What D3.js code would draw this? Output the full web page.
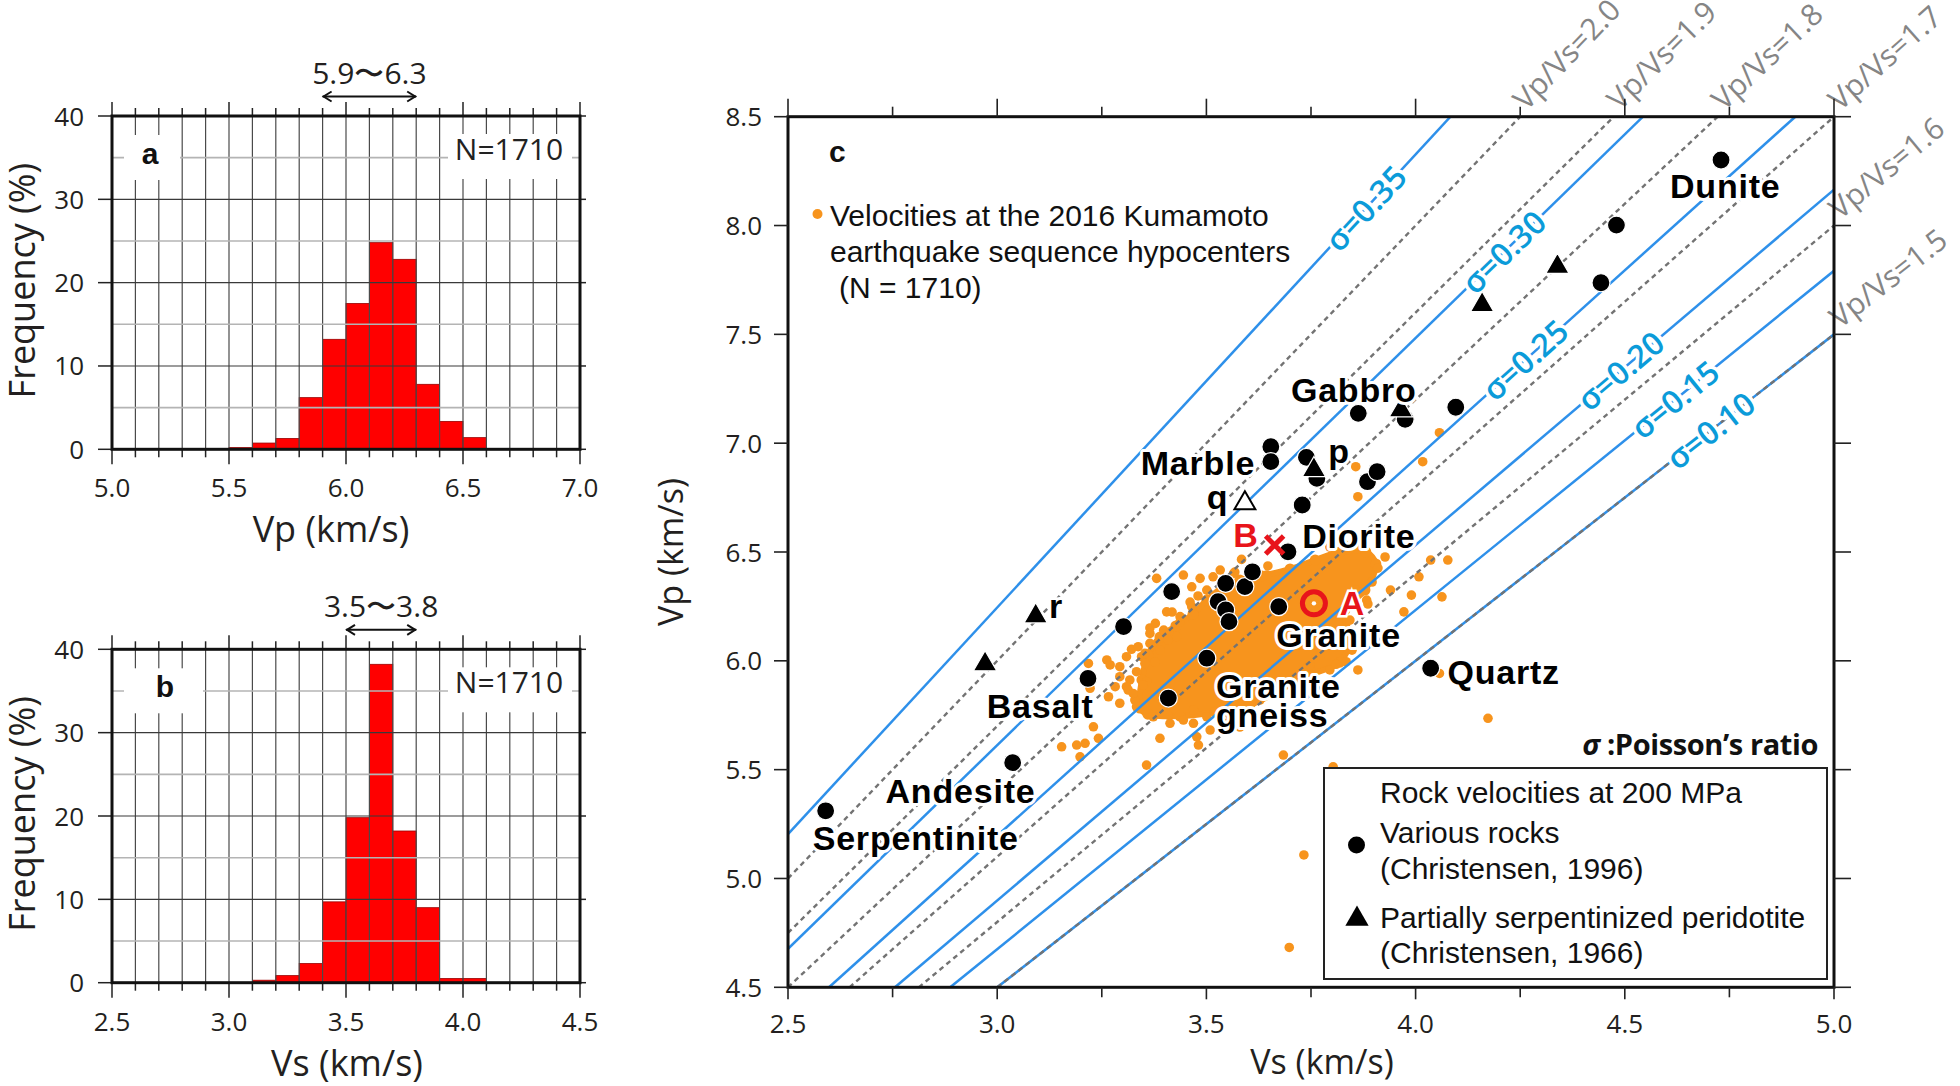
<!DOCTYPE html>
<html><head><meta charset="utf-8">
<script src="https://cdn.jsdelivr.net/npm/d3@7"></script>
<style>body{margin:0;background:#fff}svg{display:block}</style>
</head><body>
<svg id="chart" width="1960" height="1086"></svg>
<script>
// ---------------- DATA ----------------
const binWidth = 0.1;
const vpBinStart = [5.3,5.4,5.5,5.6,5.7,5.8,5.9,6.0,6.1,6.2,6.3,6.4,6.5,6.6];
const vpFreq     = [0.1,0.05,0.2,0.75,1.3,6.2,13.2,17.5,24.8,22.8,7.8,3.35,1.4,0.1];
const vsBinStart = [3.1,3.2,3.3,3.4,3.5,3.6,3.7,3.8,3.9,4.0];
const vsFreq     = [0.3,0.85,2.3,9.7,19.8,38.2,18.2,9.0,0.5,0.5];
const vpTickLabels = [5.0,5.5,6.0,6.5,7.0];
const vsTickLabels = [2.5,3.0,3.5,4.0,4.5];
const freqTicks = [0,10,20,30,40];
const vpModeRange = [5.9,6.3];
const vsModeRange = [3.5,3.8];
const sampleCount = 1710;

const ratioLines = [1.5,1.6,1.7,1.8,1.9,2.0];
const poissonValues = [0.10,0.15,0.20,0.25,0.30,0.35];
const poissonLabelVs = [4.705,4.62,4.49,4.262,4.211,3.881];
const cTicksVs = [2.5,3.0,3.5,4.0,4.5,5.0];
const cTicksVp = [4.5,5.0,5.5,6.0,6.5,7.0,7.5,8.0,8.5];

// Christensen (1996) rocks
const rockVs = [2.590,3.037,3.217,3.302,3.409,3.417,3.501,3.528,3.546,3.554,3.546,3.592,3.610,3.673,3.695,3.729,3.654,3.654,3.739,3.764,3.885,3.908,3.863,3.975,4.096,4.036,4.443,4.480,4.730];
const rockVp = [5.311,5.532,5.919,6.157,5.829,6.318,6.012,6.272,6.234,6.180,6.356,6.341,6.409,6.249,6.501,6.716,6.984,6.915,6.935,6.838,6.823,6.869,7.137,7.110,7.165,5.966,7.737,8.002,8.301];
// Christensen (1966) partially serpentinized peridotite
const periVs = [2.971,3.092,3.757,3.965,4.159,4.339];
const periVp = [5.985,6.205,6.877,7.152,7.635,7.811];
const openTriVs = [3.592], openTriVp = [6.724];
const pointA = [3.757,6.264];
const pointB = [3.663,6.532];

const rockNames  = ["Dunite","Gabbro","Marble","p","q","Diorite","Granite","Granite","gneiss","Quartz","Basalt","r","Andesite","Serpentinite"];
const rockNameVs = [4.608,3.702,3.343,3.791,3.501,3.729,3.667,3.523,3.523,4.076,2.975,3.124,2.733,2.559];
const rockNameVp = [8.126,7.190,6.854,6.909,6.697,6.518,6.063,5.829,5.697,5.893,5.737,6.196,5.346,5.130];
const redNames  = ["B","A"];
const redNameVs = [3.564,3.819];
const redNameVp = [6.523,6.210];

// 2016 Kumamoto hypocentre velocities: dense core outline + individual dots
const coreVs = [3.341,3.346,3.360,3.389,3.427,3.468,3.501,3.537,3.580,3.633,3.700,3.760,3.819,3.881,3.905,3.879,3.831,3.843,3.819,3.748,3.676,3.604,3.521,3.437,3.360];
const coreVp = [5.783,5.912,6.026,6.109,6.160,6.215,6.279,6.334,6.371,6.390,6.422,6.463,6.500,6.500,6.445,6.325,6.233,6.095,5.994,5.935,5.866,5.797,5.764,5.746,5.755];
const quakeVs = [3.381,3.445,3.485,3.516,3.584,3.405,3.429,3.365,3.389,3.321,3.345,3.262,3.270,3.218,3.353,3.293,3.317,3.357,3.266,3.309,3.230,3.242,3.190,3.210,3.198,3.154,3.389,3.357,3.409,3.469,3.477,3.481,3.509,3.684,3.469,3.222,3.803,3.862,3.940,3.972,3.990,4.008,4.036,4.077,4.063,3.862,3.857,4.017,4.057,4.173,4.057,3.883,3.834,3.733,3.698,3.365,3.418,3.437,3.461,3.480,3.537,3.408,3.377,3.329,3.313,3.568,3.604,3.647,3.795,3.831,3.867,3.910,3.896,3.843,3.848,3.795,3.724,3.628,3.556,3.580,3.927,3.819,
  3.378,3.398,3.365,3.337,3.353,3.309,3.293,3.333,3.349,3.325,3.282,3.293,3.333,3.373,3.413,3.445,3.501,3.549,3.565,3.437,3.465,3.426,3.465,3.501,3.533,3.565,3.644,3.886,3.858,3.839,3.771,3.810,3.748];
const quakeVp = [6.379,6.394,6.379,6.386,6.466,6.225,6.111,6.080,6.049,6.053,6.019,6.004,5.981,5.988,5.988,5.927,5.912,5.904,5.835,5.881,5.697,5.644,5.613,5.621,5.559,5.605,5.644,5.521,5.751,5.713,5.651,5.613,5.682,5.567,5.774,5.874,5.513,5.958,6.325,6.225,6.302,6.386,6.463,6.463,6.294,6.754,6.892,6.915,7.048,5.736,5.942,6.279,5.996,5.108,4.683,6.151,6.224,6.178,6.270,6.298,6.353,6.095,5.994,5.820,5.866,6.408,6.417,6.436,6.523,6.532,6.527,6.426,6.362,6.187,6.049,5.958,5.912,5.820,5.751,5.696,6.477,6.555,
  6.172,6.141,6.126,6.065,6.034,6.019,5.973,5.950,5.889,5.850,5.881,5.805,5.789,5.743,5.713,5.728,5.743,5.713,5.743,6.203,6.249,6.325,6.340,6.325,6.417,6.402,6.394,6.261,6.325,6.279,6.026,5.984,5.980];

// ---------------- DRAW ----------------
const svg = d3.select("#chart");
const SANS = "'Open Sans', 'Noto Sans', sans-serif";
const ARIAL = "'Liberation Sans', Arial, sans-serif";
const ORANGE = "#f7941d";

function histogram(cfg) {
  const g = svg.append("g");
  const x = d3.scaleLinear().domain(cfg.domain).range([112, 580]);
  const y = d3.scaleLinear().domain([0, 40]).range([cfg.bottom, cfg.top]);
  g.selectAll("rect.bar").data(cfg.starts).join("rect")
    .attr("x", d => x(d)).attr("width", d => x(d + binWidth) - x(d))
    .attr("y", (d, i) => y(cfg.freq[i])).attr("height", (d, i) => y(0) - y(cfg.freq[i]))
    .attr("fill", "#ff0000").attr("stroke", "#9a0000").attr("stroke-width", 0.8);
  const vLines = d3.range(1, 20).map(i => cfg.domain[0] + i * binWidth);
  g.selectAll("line.vg").data(vLines).join("line")
    .attr("x1", d => x(d)).attr("x2", d => x(d)).attr("y1", y(40)).attr("y2", y(0))
    .attr("stroke", "#4a4a4a").attr("stroke-width", 1.2);
  const hLines = [5, 10, 15, 20, 25, 30, 35];
  g.selectAll("line.hg").data(hLines).join("line")
    .attr("x1", x.range()[0]).attr("x2", x.range()[1]).attr("y1", d => y(d)).attr("y2", d => y(d))
    .attr("stroke", d => d % 10 === 0 ? "#3a3a3a" : "#b4b4b4")
    .attr("stroke-width", d => d % 10 === 0 ? 1.2 : 1.6);
  g.append("rect").attr("x", 124).attr("y", cfg.top + 19).attr("width", cfg.letterBoxW).attr("height", 45).attr("fill", "#fff");
  g.append("rect").attr("x", 448).attr("y", cfg.top + 18).attr("width", 124).attr("height", 45).attr("fill", "#fff");
  g.append("text").attr("x", cfg.letterX).attr("y", cfg.top + 48).attr("text-anchor", "middle")
    .attr("font-family", ARIAL).attr("font-weight", "bold").attr("font-size", 30).attr("fill", "#111").text(cfg.letter);
  g.append("text").attr("x", 509).attr("y", cfg.top + 44).attr("text-anchor", "middle")
    .attr("font-family", SANS).attr("font-size", 30).attr("fill", "#222").text("N=" + sampleCount);
  const tickVals = d3.range(0, 21).map(i => cfg.domain[0] + i * binWidth);
  const isMajor = v => Math.abs(Math.round(v * 2) - v * 2) < 1e-6;
  g.selectAll("line.tb").data(tickVals).join("line")
    .attr("x1", d => x(d)).attr("x2", d => x(d)).attr("y1", y(0)).attr("y2", d => y(0) + (isMajor(d) ? 15 : 8))
    .attr("stroke", "#222").attr("stroke-width", 1.5);
  g.selectAll("line.tt").data(tickVals).join("line")
    .attr("x1", d => x(d)).attr("x2", d => x(d)).attr("y1", y(40)).attr("y2", d => y(40) - (isMajor(d) ? 14 : 8))
    .attr("stroke", "#222").attr("stroke-width", 1.5);
  g.selectAll("line.tl").data(freqTicks).join("line")
    .attr("x1", x.range()[0] - 14).attr("x2", x.range()[0]).attr("y1", d => y(d)).attr("y2", d => y(d))
    .attr("stroke", "#222").attr("stroke-width", 1.5);
  g.selectAll("line.tr").data(freqTicks).join("line")
    .attr("x1", x.range()[1]).attr("x2", x.range()[1] + 6).attr("y1", d => y(d)).attr("y2", d => y(d))
    .attr("stroke", "#222").attr("stroke-width", 1.5);
  g.append("rect").attr("x", x.range()[0]).attr("y", y(40)).attr("width", x.range()[1] - x.range()[0])
    .attr("height", y(0) - y(40)).attr("fill", "none").attr("stroke", "#111").attr("stroke-width", 3);
  g.selectAll("text.xl").data(cfg.tickLabels).join("text")
    .attr("x", d => x(d)).attr("y", y(0) + 48).attr("text-anchor", "middle")
    .attr("font-family", SANS).attr("font-size", 26).attr("fill", "#231f20").text(d => d.toFixed(1));
  g.selectAll("text.yl").data(freqTicks).join("text")
    .attr("x", 84).attr("y", d => y(d) + 9.5).attr("text-anchor", "end")
    .attr("font-family", SANS).attr("font-size", 26).attr("fill", "#231f20").text(d => d);
  g.append("text").attr("x", cfg.titleX).attr("y", y(0) + 93).attr("text-anchor", "middle")
    .attr("font-family", SANS).attr("font-size", 36).attr("fill", "#231f20").text(cfg.title);
  g.append("text").attr("transform", `translate(35,${(y(0) + y(40)) / 2 - 2}) rotate(-90)`).attr("text-anchor", "middle")
    .attr("font-family", SANS).attr("font-size", 36).attr("fill", "#231f20").text("Frequency (%)");
  const ay = y(40) - 19.5;
  const x0 = x(cfg.mode[0]), x1 = x(cfg.mode[1]);
  g.append("line").attr("x1", x0).attr("x2", x1).attr("y1", ay).attr("y2", ay).attr("stroke", "#111").attr("stroke-width", 2);
  g.append("path").attr("d", `M${x0 + 9},${ay - 5}L${x0 + 1},${ay}L${x0 + 9},${ay + 5}M${x1 - 9},${ay - 5}L${x1 - 1},${ay}L${x1 - 9},${ay + 5}`)
    .attr("fill", "none").attr("stroke", "#111").attr("stroke-width", 2);
  g.append("text").attr("x", (x0 + x1) / 2).attr("y", ay - 13).attr("text-anchor", "middle")
    .attr("font-family", SANS).attr("font-size", 30).attr("fill", "#231f20")
    .text(cfg.mode[0].toFixed(1) + "\u301C" + cfg.mode[1].toFixed(1));
}

histogram({domain: [5, 7], top: 116, bottom: 449.3, starts: vpBinStart, freq: vpFreq, tickLabels: vpTickLabels,
  letter: "a", letterX: 150, letterBoxW: 56, title: "Vp (km/s)", titleX: 331, mode: vpModeRange});
histogram({domain: [2.5, 4.5], top: 649.3, bottom: 982.7, starts: vsBinStart, freq: vsFreq, tickLabels: vsTickLabels,
  letter: "b", letterX: 165, letterBoxW: 79, title: "Vs (km/s)", titleX: 347, mode: vsModeRange});

// ---------------- Panel c ----------------
const cx = d3.scaleLinear().domain([2.5, 5.0]).range([788, 1834]);
const cy = d3.scaleLinear().domain([4.5, 8.5]).range([987.3, 116.7]);
const gc = svg.append("g");
svg.append("defs").append("clipPath").attr("id", "plotclip").append("rect")
  .attr("x", 788).attr("y", 116.7).attr("width", 1046).attr("height", 870.6);
const plot = gc.append("g").attr("clip-path", "url(#plotclip)");

const coreLine = d3.line().x((d, i) => cx(coreVs[i])).y((d, i) => cy(coreVp[i])).curve(d3.curveCatmullRomClosed.alpha(0.5));
plot.append("path").attr("d", coreLine(coreVs)).attr("fill", ORANGE).attr("stroke", ORANGE)
  .attr("stroke-width", 6).attr("stroke-linejoin", "round");
plot.selectAll("circle.core").data(coreVs).join("circle")
  .attr("cx", d => cx(d)).attr("cy", (d, i) => cy(coreVp[i])).attr("r", 5.5).attr("fill", ORANGE);
plot.selectAll("circle.eq").data(quakeVs).join("circle")
  .attr("cx", d => cx(d)).attr("cy", (d, i) => cy(quakeVp[i])).attr("r", 4.8).attr("fill", ORANGE);

const ratioFromSigma = s => Math.sqrt((2 - 2 * s) / (1 - 2 * s));
function seg(r) {
  const v0 = Math.max(2.5, 4.5 / r), v1 = Math.min(5.0, 8.5 / r);
  return [[v0, r * v0], [v1, r * v1]];
}
plot.selectAll("line.sig").data(poissonValues).join("line")
  .each(function (s) {
    const p = seg(ratioFromSigma(s));
    d3.select(this).attr("x1", cx(p[0][0])).attr("y1", cy(p[0][1])).attr("x2", cx(p[1][0])).attr("y2", cy(p[1][1]));
  })
  .attr("stroke", "#2e90ea").attr("stroke-width", 2.5);
plot.selectAll("line.rat").data(ratioLines).join("line")
  .each(function (r) {
    const p = seg(r);
    d3.select(this).attr("x1", cx(p[0][0])).attr("y1", cy(p[0][1])).attr("x2", cx(p[1][0])).attr("y2", cy(p[1][1]));
  })
  .attr("stroke", "#737373").attr("stroke-width", 2.4).attr("stroke-dasharray", "5,4");

const pxPerVs = cx(3) - cx(2), pxPerVp = cy(5) - cy(6);
const lineAngle = r => Math.atan(r * pxPerVp / pxPerVs) * 180 / Math.PI;
gc.selectAll("text.sl").data(poissonValues).join("text")
  .attr("transform", (s, i) => {
    const r = ratioFromSigma(s);
    return `translate(${cx(poissonLabelVs[i])},${cy(r * poissonLabelVs[i])}) rotate(${-lineAngle(r)})`;
  })
  .attr("text-anchor", "middle").attr("dy", "0.36em")
  .attr("font-family", SANS).attr("font-weight", 600).attr("font-size", 32)
  .attr("fill", "#0b9bd9").attr("stroke", "#fff").attr("stroke-width", 7).attr("paint-order", "stroke")
  .text(s => "\u03C3=" + s.toFixed(2));

gc.selectAll("text.rl").data(ratioLines).join("text")
  .attr("transform", r => {
    const p = seg(r)[1];
    return `translate(${cx(p[0]) + 6},${cy(p[1]) - 5}) rotate(${-lineAngle(r)})`;
  })
  .attr("font-family", SANS).attr("font-size", 30).attr("fill", "#858585")
  .text(r => "Vp/Vs=" + r.toFixed(1));

const tri = d3.symbol().type(d3.symbolTriangle).size(235);
gc.selectAll("circle.rock").data(rockVs).join("circle")
  .attr("cx", d => cx(d)).attr("cy", (d, i) => cy(rockVp[i])).attr("r", 9)
  .attr("fill", "#000").attr("stroke", "#fff").attr("stroke-width", 1.2);
gc.selectAll("path.peri").data(periVs).join("path")
  .attr("d", tri).attr("transform", (d, i) => `translate(${cx(d)},${cy(periVp[i])})`)
  .attr("fill", "#000").attr("stroke", "#fff").attr("stroke-width", 1.2);
gc.selectAll("path.open").data(openTriVs).join("path")
  .attr("d", d3.symbol().type(d3.symbolTriangle).size(190)).attr("transform", (d, i) => `translate(${cx(d)},${cy(openTriVp[i])})`)
  .attr("fill", "#fff").attr("stroke", "#000").attr("stroke-width", 2);
gc.append("circle").attr("cx", cx(pointA[0])).attr("cy", cy(pointA[1])).attr("r", 11.5)
  .attr("fill", "none").attr("stroke", "#e8141b").attr("stroke-width", 5);
gc.append("circle").attr("cx", cx(pointA[0])).attr("cy", cy(pointA[1])).attr("r", 2.2).attr("fill", "#fff");
const bx = cx(pointB[0]), by = cy(pointB[1]);
gc.append("path").attr("d", `M${bx - 9},${by - 9}L${bx + 9},${by + 9}M${bx - 9},${by + 9}L${bx + 9},${by - 9}`)
  .attr("stroke", "#e8141b").attr("stroke-width", 5);

gc.selectAll("text.rn").data(rockNames).join("text")
  .attr("x", (d, i) => cx(rockNameVs[i])).attr("y", (d, i) => cy(rockNameVp[i]))
  .attr("font-family", ARIAL).attr("font-weight", "bold").attr("font-size", 34).attr("letter-spacing", 0.8)
  .attr("fill", "#000").attr("stroke", "#fff").attr("stroke-width", 6).attr("stroke-linejoin", "round").attr("paint-order", "stroke")
  .text(d => d);
gc.selectAll("text.red").data(redNames).join("text")
  .attr("x", (d, i) => cx(redNameVs[i])).attr("y", (d, i) => cy(redNameVp[i]))
  .attr("font-family", ARIAL).attr("font-weight", "bold").attr("font-size", 34)
  .attr("fill", "#e8141b").attr("stroke", "#fff").attr("stroke-width", 5).attr("paint-order", "stroke")
  .text(d => d);

gc.append("rect").attr("x", 788).attr("y", 116.7).attr("width", 1046).attr("height", 870.6)
  .attr("fill", "none").attr("stroke", "#111").attr("stroke-width", 3);
const quarterVs = d3.range(0, 11).map(i => 2.5 + i * 0.25);
const isHalf = v => Math.abs(Math.round(v * 2) - v * 2) < 1e-6;
gc.selectAll("line.ctt").data(quarterVs).join("line")
  .attr("x1", d => cx(d)).attr("x2", d => cx(d)).attr("y1", cy(8.5)).attr("y2", d => cy(8.5) - (isHalf(d) ? 18 : 10))
  .attr("stroke", "#222").attr("stroke-width", 1.6);
gc.selectAll("line.ctb").data(quarterVs).join("line")
  .attr("x1", d => cx(d)).attr("x2", d => cx(d)).attr("y1", cy(4.5)).attr("y2", d => cy(4.5) + (isHalf(d) ? 12 : 10))
  .attr("stroke", "#222").attr("stroke-width", 1.6);
gc.selectAll("line.ctl").data(cTicksVp).join("line")
  .attr("x1", cx(2.5) - 14).attr("x2", cx(2.5)).attr("y1", d => cy(d)).attr("y2", d => cy(d))
  .attr("stroke", "#222").attr("stroke-width", 1.6);
gc.selectAll("line.ctr").data(cTicksVp).join("line")
  .attr("x1", cx(5)).attr("x2", cx(5) + 17).attr("y1", d => cy(d)).attr("y2", d => cy(d))
  .attr("stroke", "#222").attr("stroke-width", 1.6);
gc.selectAll("text.cxl").data(cTicksVs).join("text")
  .attr("x", d => cx(d)).attr("y", 1033).attr("text-anchor", "middle")
  .attr("font-family", SANS).attr("font-size", 26).attr("fill", "#231f20").text(d => d.toFixed(1));
gc.selectAll("text.cyl").data(cTicksVp).join("text")
  .attr("x", 762).attr("y", d => cy(d) + 9.5).attr("text-anchor", "end")
  .attr("font-family", SANS).attr("font-size", 26).attr("fill", "#231f20").text(d => d.toFixed(1));
gc.append("text").attr("x", 1322).attr("y", 1074).attr("text-anchor", "middle")
  .attr("font-family", SANS).attr("font-size", 34).attr("fill", "#231f20").text("Vs (km/s)");
gc.append("text").attr("transform", `translate(683,552) rotate(-90)`).attr("text-anchor", "middle")
  .attr("font-family", SANS).attr("font-size", 34).attr("fill", "#231f20").text("Vp (km/s)");

gc.append("text").attr("x", 829).attr("y", 162).attr("font-family", ARIAL).attr("font-weight", "bold")
  .attr("font-size", 30).attr("fill", "#111").text("c");
gc.append("circle").attr("cx", 817.5).attr("cy", 214).attr("r", 5).attr("fill", ORANGE);
const legTop = ["Velocities at the 2016 Kumamoto", "earthquake sequence hypocenters", "(N = " + sampleCount + ")"];
gc.selectAll("text.lt").data(legTop).join("text")
  .attr("x", (d, i) => i === 2 ? 839 : 830).attr("y", (d, i) => 226 + i * 36)
  .attr("font-family", ARIAL).attr("font-size", 30).attr("fill", "#111").text(d => d);

const note = gc.append("text").attr("x", 1818).attr("y", 755).attr("text-anchor", "end")
  .attr("font-family", SANS).attr("font-weight", "bold").attr("font-size", 29).attr("letter-spacing", -0.4).attr("fill", "#111");
note.append("tspan").attr("font-style", "italic").text("\u03C3");
note.append("tspan").text(" :Poisson\u2019s ratio");

gc.append("rect").attr("x", 1324).attr("y", 768).attr("width", 503).attr("height", 211)
  .attr("fill", "#fff").attr("stroke", "#222").attr("stroke-width", 2);
const legLines = ["Rock velocities at 200 MPa", "Various rocks", "(Christensen, 1996)", "Partially serpentinized peridotite", "(Christensen, 1966)"];
const legBase = [803, 843, 879, 928, 963];
gc.selectAll("text.lb").data(legLines).join("text")
  .attr("x", 1380).attr("y", (d, i) => legBase[i])
  .attr("font-family", ARIAL).attr("font-size", 30).attr("fill", "#111").text(d => d);
gc.append("circle").attr("cx", 1356.5).attr("cy", 845).attr("r", 8.5).attr("fill", "#000");
gc.append("path").attr("d", tri).attr("transform", "translate(1357,919)").attr("fill", "#000");
</script>
</body></html>
